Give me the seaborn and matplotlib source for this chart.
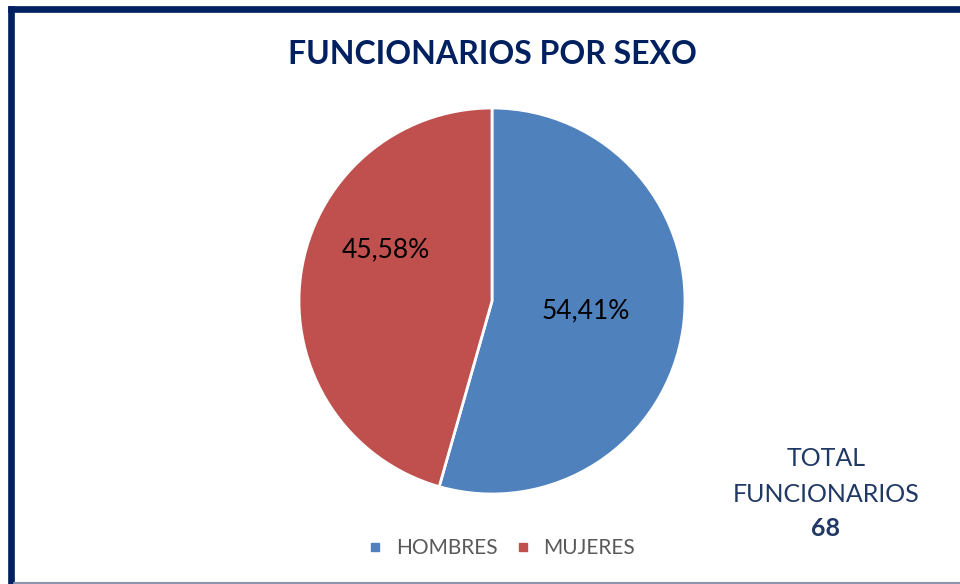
import math
import numpy as np
import matplotlib
matplotlib.use("Agg")
import matplotlib.pyplot as plt
from matplotlib.lines import Line2D
import seaborn as sns

# data
categories = ["HOMBRES", "MUJERES"]
counts = [37, 31]
colors = ["#4F81BD", "#C0504D"]

total = sum(counts)
# Excel truncates the percentage instead of rounding it
pct_labels = [
    f"{math.floor(c / total * 10000) / 100:.2f}%".replace(".", ",") for c in counts
]

sns.set_theme(style="white")
plt.rcParams["font.family"] = ["Lato", "DejaVu Sans"]

W, H = 960, 584
fig = plt.figure(figsize=(W / 100, H / 100), dpi=100)
fig.patch.set_facecolor("white")

# pie axes: centre (492, 301) px, radius 193 px
cx, cy, rad = 492, 301, 193
lim = 1.02
half = rad * lim
ax = fig.add_axes([(cx - half) / W, (H - cy - half) / H, 2 * half / W, 2 * half / H])

wedges, _ = ax.pie(
    counts,
    colors=sns.color_palette(colors),
    startangle=90,
    counterclock=False,
    wedgeprops=dict(edgecolor="white", linewidth=2.0),
)
ax.set_xlim(-lim, lim)
ax.set_ylim(-lim, lim)
ax.set_aspect("equal")
ax.axis("off")

# percentage labels placed inside each wedge (fraction along arc, radius)
label_frac = [0.51, 0.39]
label_r = [0.49, 0.61]
for w, txt, f, r in zip(wedges, pct_labels, label_frac, label_r):
    ang = np.deg2rad(w.theta1 + f * (w.theta2 - w.theta1))
    ax.text(r * np.cos(ang), r * np.sin(ang), txt, ha="center", va="center",
            fontsize=19, color="black")

# title
fig.text(492 / W, 1 - 55 / H, "FUNCIONARIOS POR SEXO", ha="center", va="center",
         fontsize=23, fontweight="bold", color="#002060")

# total box text
navy = "#1F3864"
fig.text(826 / W, 1 - 459 / H, "TOTAL", ha="center", va="center", fontsize=18, color=navy)
fig.text(826 / W, 1 - 494 / H, "FUNCIONARIOS", ha="center", va="center", fontsize=18, color=navy)
fig.text(826 / W, 1 - 529 / H, f"{total}", ha="center", va="center", fontsize=18,
         fontweight="bold", color=navy)

# legend
handles = [Line2D([0], [0], marker="s", linestyle="none", markersize=6,
                  markerfacecolor=c, markeredgecolor=c) for c in colors]
leg = fig.legend(handles, categories, loc="center", bbox_to_anchor=(501 / W, 1 - 548 / H),
                 ncol=2, frameon=False, fontsize=15, handletextpad=0.6,
                 columnspacing=0.8, handlelength=0.8)
for t in leg.get_texts():
    t.set_color("#595959")

# frame: navy top and left, thin grey bottom
fig.add_artist(Line2D([11 / W, 1.0], [1 - 9 / H, 1 - 9 / H], color="#002060", linewidth=4.8,
                      solid_capstyle="projecting"))
fig.add_artist(Line2D([11 / W, 11 / W], [1 - 9 / H, 0], color="#002060", linewidth=4.8,
                      solid_capstyle="projecting"))
fig.add_artist(Line2D([14 / W, 1.0], [1 - 583 / H, 1 - 583 / H], color="#8E96AE", linewidth=1.5))

fig.savefig("out.png", dpi=100, facecolor="white")
